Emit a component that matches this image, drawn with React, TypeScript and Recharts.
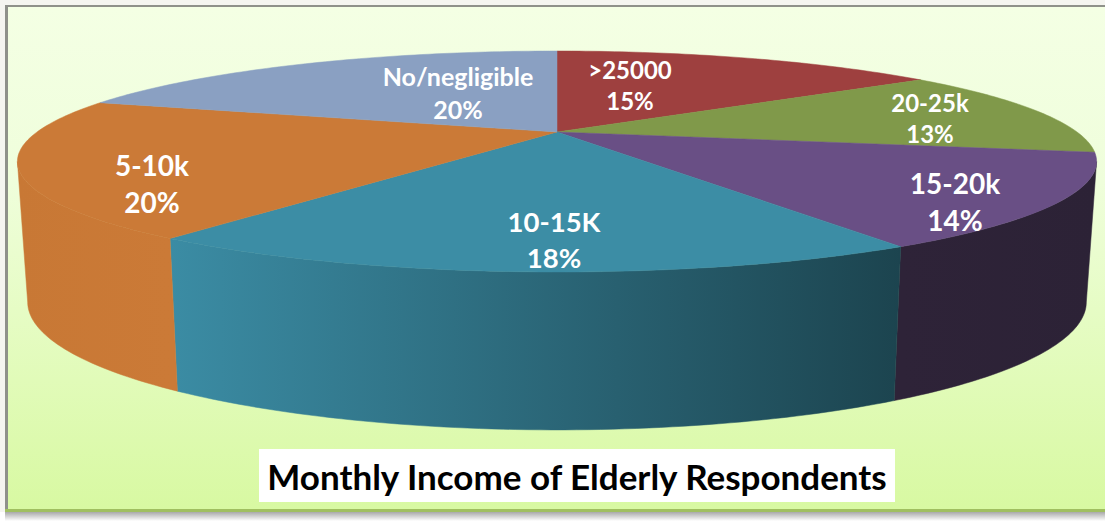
import { Pie, PieChart } from 'recharts';

const categories = ['>25000', '20-25k', '15-20k', '10-15K', '5-10k', 'No/negligible'];
// the printed labels are these rounded
const shareValues = [15, 13, 13.5, 18.4, 20.1, 20];
const topColors = ['#9e403f', '#80994a', '#694f85', '#3c8da5', '#cb7a37', '#8aa0c2'];
const wallFrom = ['#9e403f', '#80994a', '#2e2338', '#3b8ca4', '#cb7a37', '#8aa0c2'];
const wallTo = ['#9e403f', '#80994a', '#2c2236', '#1c444f', '#c87835', '#8aa0c2'];
const labelSizes = [24, 24, 28, 27.5, 28, 25];
const labelSpots = [
	[73, -45],
	[373, -12],
	[398, 72],
	[-3, 110],
	[-405, 54],
	[-99, -37]
];

const data = categories.map((name, i) => ({ name, value: shareValues[i], fill: topColors[i] }));

// perspective of the tilted disc, fitted to the rim in the picture
const K = 0.267;
const RX = 520;
const RY = 102.6;
const rad = (deg: number) => (deg * Math.PI) / 180;

function rim(theta: number, cx: number, cy: number) {
	const s = Math.sin(rad(theta));
	const c = Math.cos(rad(theta));
	const w = 1 + K * c;
	return { x: cx + (RX * s) / w, y: cy - (RY * c) / w };
}

function base(p: { x: number; y: number }, cx: number) {
	return { x: cx + (p.x - cx) * 0.981, y: 302 + (p.y - 161.5) * 1.158 };
}

function Slice(props: any) {
	const { cx, cy, startAngle, endAngle, fill, index } = props;
	const from = 90 - startAngle;
	const to = 90 - endAngle;
	const pts: { x: number; y: number }[] = [];
	for (let t = from; t < to; t += 1) pts.push(rim(t, cx, cy));
	pts.push(rim(to, cx, cy));
	const top = `M${cx},${cy} ` + pts.map((p) => `L${p.x},${p.y}`).join(' ') + ' Z';

	// only the front of the disc has a visible wall
	const a = Math.max(from, 105.5);
	const b = Math.min(to, 254.5);
	let wall = null;
	if (b > a) {
		const edge: { x: number; y: number }[] = [];
		for (let t = a; t < b; t += 1) edge.push(rim(t, cx, cy));
		edge.push(rim(b, cx, cy));
		const lower = edge.map((p) => base(p, cx)).reverse();
		const d = 'M' + [...edge, ...lower].map((p) => `${p.x},${p.y}`).join(' L') + ' Z';
		const id = `wall-${index}`;
		const xs = edge.map((p) => p.x);
		// orange wall runs the other way: lit at the seam with its top, darker at the far left
		const reversed = index === 4;
		wall = (
			<g>
				<defs>
					<linearGradient
						id={id}
						gradientUnits="userSpaceOnUse"
						x1={reversed ? Math.max(...xs) : Math.min(...xs)}
						x2={reversed ? Math.min(...xs) : Math.max(...xs)}
						y1={0}
						y2={0}
					>
						<stop offset="0%" stopColor={wallFrom[index]} />
						<stop offset="100%" stopColor={wallTo[index]} />
					</linearGradient>
				</defs>
				<path d={d} fill={`url(#${id})`} stroke={`url(#${id})`} strokeWidth={0.5} />
			</g>
		);
	}
	return (
		<g>
			{wall}
			<path d={top} fill={fill} stroke={fill} strokeWidth={0.5} />
		</g>
	);
}

function SliceLabel(props: any) {
	const { index, cx, cy } = props;
	const size = labelSizes[index];
	const x = cx + labelSpots[index][0];
	const y = cy + labelSpots[index][1];
	return (
		<text x={x} y={y} textAnchor="middle" fill="#fff" fontFamily="Lato" fontWeight={700} fontSize={size}>
			<tspan x={x} dy={-size * 0.35}>
				{categories[index]}
			</tspan>
			<tspan x={x} dy={size * 1.3}>
				{Math.round(shareValues[index])}%
			</tspan>
		</text>
	);
}

export default function App() {
	return (
		<div style={{ position: 'absolute', left: 0, top: 0, width: 1105, height: 527, background: '#fff', overflow: 'hidden' }}>
			<div style={{ position: 'absolute', left: 0, top: 0, width: 1105, height: 512, background: '#f5f5f0' }} />
			<div
				style={{
					position: 'absolute',
					left: 5,
					top: 5,
					width: 1100,
					height: 504,
					boxSizing: 'border-box',
					borderTop: '2px solid #8f918a',
					borderLeft: '3px solid #8f918a',
					background: 'linear-gradient(180deg, #f4ffe4 0%, #effedb 35%, #d8f9a2 100%)'
				}}
			/>
			<div style={{ position: 'absolute', left: 5, top: 509, width: 1100, height: 3, background: '#a0bf60' }} />
			<div style={{ position: 'absolute', left: 5, top: 512, width: 1100, height: 9, background: 'linear-gradient(180deg, #a9a9a9, #ffffff)' }} />
			<div style={{ position: 'absolute', left: 0, top: 0 }}>
				<PieChart width={1105} height={527} margin={{ top: 0, right: 0, bottom: 0, left: 0 }}>
					<Pie
						data={data}
						dataKey="value"
						nameKey="name"
						cx={557}
						cy={132}
						outerRadius={100}
						startAngle={90}
						endAngle={-270}
						shape={Slice}
						label={SliceLabel}
						labelLine={false}
						isAnimationActive={false}
					/>
				</PieChart>
			</div>
			<div
				style={{
					position: 'absolute',
					left: 259,
					top: 449,
					width: 636,
					height: 53,
					background: '#fff',
					color: '#000',
					fontFamily: 'Lato',
					fontWeight: 700,
					fontSize: 35,
					lineHeight: '54px',
					textAlign: 'center',
					whiteSpace: 'nowrap'
				}}
			>
				Monthly Income of Elderly Respondents
			</div>
		</div>
	);
}
